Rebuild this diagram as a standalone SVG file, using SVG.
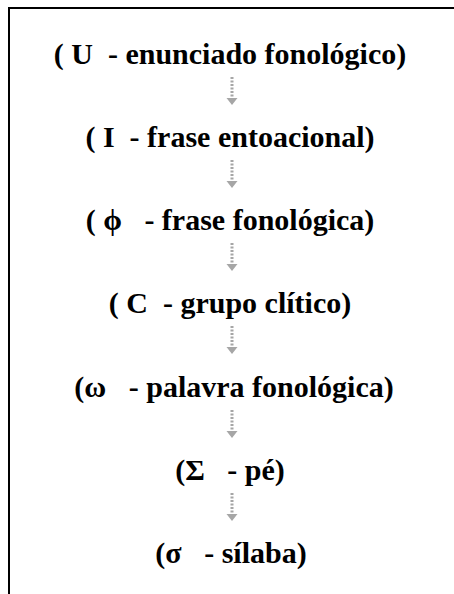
<svg xmlns="http://www.w3.org/2000/svg" width="454" height="594" viewBox="0 0 454 594">
<style>
.t{font-family:"Liberation Serif","Times New Roman",serif;font-weight:bold;font-size:30px;fill:#000;text-anchor:middle;white-space:pre}
.stem{stroke:#a6a6a6;stroke-width:3;stroke-dasharray:2 1.5;fill:none}
.head{fill:#a6a6a6}
</style>
<defs>
<g id="arr">
<line class="stem" x1="232" y1="0" x2="232" y2="21"/>
<path class="head" d="M226.5 21 L237.5 21 L232 28 Z"/>
</g>
</defs>
<rect x="0" y="0" width="454" height="594" fill="#fff"/>
<path d="M9 594 V8 H454" fill="none" stroke="#000" stroke-width="2"/>
<g id="connectors">
<use href="#arr" y="77"/>
<use href="#arr" y="160"/>
<use href="#arr" y="243"/>
<use href="#arr" y="326"/>
<use href="#arr" y="410"/>
<use href="#arr" y="493"/>
</g>
<g id="n1"><text class="t" x="230" y="64">( U  - enunciado fonológico)</text></g>
<g id="n2"><text class="t" x="230" y="147">( I  - frase entoacional)</text></g>
<g id="n3"><text class="t" x="230" y="230">( ϕ   - frase fonológica)</text></g>
<g id="n4"><text class="t" x="230" y="313">( C  - grupo clítico)</text></g>
<g id="n5"><text class="t" x="234" y="397">(ω   - palavra fonológica)</text></g>
<g id="n6"><text class="t" x="230" y="480">(Σ   - pé)</text></g>
<g id="n7"><text class="t" x="231" y="563">(σ   - sílaba)</text></g>
</svg>
